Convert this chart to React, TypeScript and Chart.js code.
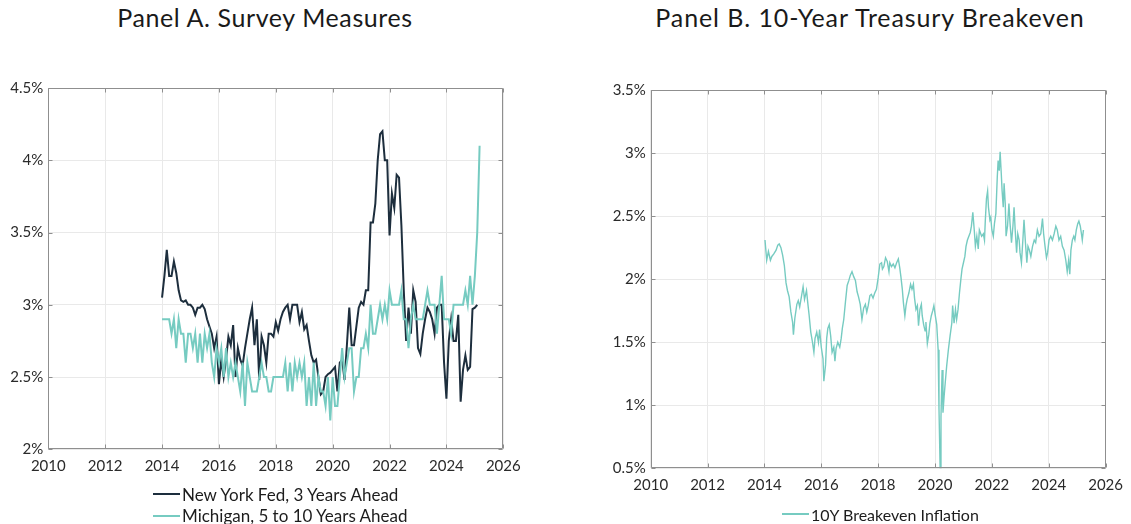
import React, { useEffect, useRef } from "react";
import { Chart, registerables } from "chart.js";

Chart.register(...registerables);

const FONT = "Lato, 'Noto Sans', sans-serif";
const NAVY = "#1d2e3d";
const TEAL = "#76cbc1";
const GRID = "#e9e9e9";
const FRAME = "#8f8f8f";
const TICK_TEXT = "#2a2a2a";

// Shared x-axis ticks (years)
const yearTicks = [2010, 2012, 2014, 2016, 2018, 2020, 2022, 2024, 2026];

// Panel A: monthly survey medians, first observation January 2014
const surveyFirstYear = 2014;
const nyFed3YearsAhead = [
  3.05, 3.2, 3.38, 3.2, 3.2, 3.3, 3.22, 3.1, 3.03, 3.02, 3.03, 3.0,
  3.0, 2.98, 2.93, 2.98, 2.98, 3.0, 2.97, 2.9, 2.85, 2.8, 2.7, 2.78,
  2.45, 2.62, 2.5, 2.62, 2.78, 2.72, 2.86, 2.5, 2.7, 2.62, 2.58, 2.7,
  2.8, 2.9, 2.98, 2.72, 2.9, 2.48, 2.78, 2.72, 2.6, 2.8, 2.8, 2.78,
  2.88, 2.82, 2.9, 2.95, 2.98, 3.0, 2.9, 3.0, 3.0, 3.0, 2.88, 2.95,
  2.83, 2.86, 2.75, 2.65, 2.6, 2.62, 2.5, 2.38, 2.4, 2.5, 2.52, 2.53,
  2.55, 2.57, 2.4, 2.6, 2.62, 2.48, 2.72, 2.98, 2.72, 2.72, 2.85, 2.98,
  3.02, 3.0, 3.1, 3.1, 3.57, 3.57, 3.7, 4.0, 4.18, 4.2, 4.0, 4.0,
  3.48, 3.77, 3.67, 3.9, 3.88, 3.55, 3.1, 2.75, 2.98, 2.8, 3.1, 3.02,
  2.7, 2.66, 2.8, 2.9, 2.98, 2.95, 2.9, 2.8, 2.98, 3.0, 3.0, 2.6,
  2.35, 2.75, 2.9, 2.75, 2.75, 2.93, 2.33, 2.55, 2.65, 2.55, 2.57, 2.97,
  2.98, 3.0,
];
const michigan5to10YearsAhead = [
  2.9, 2.9, 2.9, 2.9, 2.8, 2.9, 2.7, 2.9, 2.8, 2.8, 2.6, 2.8,
  2.8, 2.7, 2.8, 2.6, 2.8, 2.6, 2.8, 2.7, 2.8, 2.6, 2.5, 2.7,
  2.6, 2.7, 2.5, 2.7, 2.5, 2.6, 2.5, 2.6, 2.5, 2.4, 2.6, 2.3,
  2.6, 2.5, 2.4, 2.4, 2.4, 2.5, 2.6, 2.5, 2.5, 2.4, 2.4, 2.5,
  2.5, 2.5, 2.5, 2.5, 2.6, 2.4, 2.6, 2.4, 2.6, 2.5, 2.6, 2.5,
  2.6, 2.3, 2.5, 2.3, 2.6, 2.3, 2.5, 2.4, 2.4, 2.3, 2.5, 2.2,
  2.5, 2.3, 2.3, 2.5, 2.7, 2.5, 2.6, 2.7, 2.7, 2.4, 2.5, 2.5,
  2.7, 2.7, 2.8, 2.7, 3.0, 2.8, 2.8, 2.9, 3.0, 2.9, 3.0, 2.9,
  3.1, 3.0, 3.0, 3.0, 3.0, 3.1, 2.9, 2.9, 2.7, 2.9, 3.0, 2.9,
  2.9, 2.9, 2.9, 3.0, 3.1, 3.0, 3.0, 3.0, 2.8, 3.0, 3.2, 2.9,
  2.9, 2.9, 2.8, 3.0, 3.0, 3.0, 3.0, 3.0, 3.1, 3.0, 3.2, 3.0,
  3.2, 3.5, 4.1,
];
const surveyTicks = [2, 2.5, 3, 3.5, 4, 4.5];

// Panel B: 10-year breakeven inflation (date as decimal year, percent)
const breakevenDates = [
  2014.02, 2014.08, 2014.14, 2014.21, 2014.26, 2014.33, 2014.41, 2014.47, 2014.52, 2014.58,
  2014.64, 2014.7, 2014.76, 2014.81, 2014.87, 2014.93, 2014.99, 2015.02, 2015.07, 2015.14,
  2015.19, 2015.24, 2015.3, 2015.36, 2015.41, 2015.48, 2015.53, 2015.57, 2015.63, 2015.69,
  2015.74, 2015.78, 2015.84, 2015.9, 2015.94, 2016.0, 2016.06, 2016.09, 2016.15, 2016.19,
  2016.23, 2016.28, 2016.33, 2016.38, 2016.44, 2016.48, 2016.52, 2016.58, 2016.65, 2016.7,
  2016.74, 2016.79, 2016.85, 2016.91, 2016.97, 2017.02, 2017.08, 2017.14, 2017.2, 2017.26,
  2017.31, 2017.37, 2017.43, 2017.49, 2017.55, 2017.6, 2017.65, 2017.71, 2017.76, 2017.82,
  2017.88, 2017.94, 2018.0, 2018.06, 2018.12, 2018.15, 2018.2, 2018.26, 2018.32, 2018.38,
  2018.41, 2018.47, 2018.53, 2018.59, 2018.65, 2018.71, 2018.76, 2018.8, 2018.85, 2018.89,
  2018.94, 2018.98, 2019.02, 2019.08, 2019.14, 2019.19, 2019.24, 2019.28, 2019.33, 2019.38,
  2019.42, 2019.47, 2019.52, 2019.55, 2019.6, 2019.65, 2019.68, 2019.73, 2019.78, 2019.82,
  2019.87, 2019.92, 2019.96, 2020.01, 2020.06, 2020.11, 2020.14, 2020.18, 2020.21, 2020.25,
  2020.28, 2020.32, 2020.36, 2020.41, 2020.47, 2020.53, 2020.59, 2020.62, 2020.67, 2020.72,
  2020.76, 2020.81, 2020.86, 2020.91, 2020.95, 2021.0, 2021.05, 2021.09, 2021.14, 2021.19,
  2021.24, 2021.28, 2021.33, 2021.38, 2021.42, 2021.47, 2021.52, 2021.56, 2021.64, 2021.7,
  2021.74, 2021.77, 2021.81, 2021.85, 2021.88, 2021.93, 2021.96, 2022.0, 2022.05, 2022.09,
  2022.14, 2022.19, 2022.22, 2022.26, 2022.29, 2022.33, 2022.36, 2022.4, 2022.43, 2022.47,
  2022.5, 2022.55, 2022.6, 2022.64, 2022.69, 2022.74, 2022.78, 2022.82, 2022.87, 2022.91,
  2022.96, 2022.99, 2023.04, 2023.09, 2023.13, 2023.18, 2023.23, 2023.27, 2023.32, 2023.37,
  2023.43, 2023.49, 2023.54, 2023.6, 2023.66, 2023.72, 2023.78, 2023.82, 2023.87, 2023.92,
  2023.96, 2024.01, 2024.07, 2024.13, 2024.19, 2024.25, 2024.3, 2024.36, 2024.42, 2024.48,
  2024.54, 2024.6, 2024.65, 2024.7, 2024.74, 2024.78, 2024.83, 2024.88, 2024.92, 2024.97,
  2025.02, 2025.06, 2025.11, 2025.15, 2025.18, 2025.22,
];
const breakevenValues = [
  2.31, 2.15, 2.22, 2.15, 2.18, 2.2, 2.23, 2.27, 2.28, 2.25,
  2.19, 2.11, 1.97, 1.91, 1.86, 1.74, 1.66, 1.56, 1.69, 1.8,
  1.83, 1.78, 1.86, 1.94, 1.84, 1.91, 1.8, 1.72, 1.58, 1.5,
  1.42, 1.53, 1.58, 1.5, 1.6, 1.46, 1.37, 1.19, 1.32, 1.53,
  1.61, 1.64, 1.55, 1.42, 1.46, 1.35, 1.45, 1.5, 1.46, 1.53,
  1.61, 1.68, 1.82, 1.95, 1.99, 2.03, 2.06, 2.02, 1.99, 1.9,
  1.86, 1.8, 1.68, 1.77, 1.8, 1.74, 1.79, 1.87, 1.88, 1.85,
  1.89, 1.92, 2.01, 2.12, 2.13, 2.08, 2.1, 2.17, 2.14, 2.06,
  2.13, 2.1, 2.12, 2.09, 2.13, 2.16, 2.09, 2.02, 1.92, 1.81,
  1.71, 1.79, 1.84, 1.89, 1.96, 1.92, 1.96, 1.85, 1.76, 1.79,
  1.63, 1.76, 1.8, 1.71, 1.64, 1.59, 1.66, 1.49, 1.56, 1.65,
  1.71, 1.75, 1.79, 1.71, 1.64, 1.44, 0.97, 0.5, 0.91, 1.28,
  0.94, 1.07, 1.18, 1.31, 1.44, 1.55, 1.65, 1.79, 1.65, 1.76,
  1.68, 1.76, 1.89, 2.0, 2.08, 2.13, 2.18, 2.26, 2.31, 2.34,
  2.37, 2.42, 2.53, 2.39, 2.26, 2.34, 2.24, 2.39, 2.34, 2.36,
  2.31, 2.47, 2.64, 2.7, 2.57, 2.47, 2.49, 2.39, 2.34, 2.44,
  2.52, 2.81, 2.94, 2.86, 3.01, 2.84, 2.7, 2.57, 2.76, 2.6,
  2.34, 2.42, 2.6, 2.44, 2.29, 2.42, 2.57, 2.39, 2.21, 2.36,
  2.31, 2.21, 2.13, 2.31, 2.47, 2.29, 2.13, 2.26, 2.23, 2.18,
  2.26, 2.31, 2.29, 2.39, 2.34, 2.36, 2.48, 2.36, 2.26, 2.17,
  2.21, 2.31, 2.34, 2.31, 2.36, 2.42, 2.39, 2.31, 2.34, 2.26,
  2.23, 2.15, 2.06, 2.15, 2.04, 2.23, 2.31, 2.34, 2.31, 2.39,
  2.44, 2.46, 2.42, 2.36, 2.31, 2.39,
];
const breakevenTicks = [0.5, 1, 1.5, 2, 2.5, 3, 3.5];

const monthlyPoints = (values: number[]) =>
  values.map((v, i) => ({ x: surveyFirstYear + i / 12, y: v }));

const datedPoints = (dates: number[], values: number[]) =>
  dates.map((d, i) => ({ x: d, y: values[i] }));

// Draws the boxed frame with short inward tick marks on all four sides.
const framePlugin = {
  id: "boxFrame",
  afterDraw(chart: any) {
    const { ctx, chartArea: a, scales } = chart;
    const t = 4;
    ctx.save();
    ctx.strokeStyle = FRAME;
    ctx.lineWidth = 1;
    ctx.beginPath();
    const L = Math.round(a.left) + 0.5;
    const R = Math.round(a.right) - 0.5;
    const T = Math.round(a.top) + 0.5;
    const B = Math.round(a.bottom) - 0.5;
    ctx.rect(L, T, R - L, B - T);
    for (const tk of scales.x.ticks) {
      const px = Math.round(scales.x.getPixelForValue(tk.value)) + 0.5;
      ctx.moveTo(px, B);
      ctx.lineTo(px, B - t);
      ctx.moveTo(px, T);
      ctx.lineTo(px, T + t);
    }
    for (const tk of scales.y.ticks) {
      const py = Math.round(scales.y.getPixelForValue(tk.value)) + 0.5;
      ctx.moveTo(L, py);
      ctx.lineTo(L + t, py);
      ctx.moveTo(R, py);
      ctx.lineTo(R - t, py);
    }
    ctx.stroke();
    ctx.restore();
  },
};

type Frame = {
  yMin: number;
  yMax: number;
  yTicks: number[];
  yWidth: number;
  xHeight: number;
  padTop: number;
  padRight: number;
};

function buildOptions(f: Frame): any {
  const tickFont = { family: FONT, size: 15 };
  return {
    responsive: false,
    maintainAspectRatio: false,
    animation: false,
    events: [],
    layout: { padding: { top: f.padTop, right: f.padRight, left: 0, bottom: 0 } },
    plugins: {
      legend: { display: false },
      tooltip: { enabled: false },
      title: { display: false },
    },
    scales: {
      x: {
        type: "linear",
        min: 2010,
        max: 2026,
        afterBuildTicks: (axis: any) => {
          axis.ticks = yearTicks.map((value) => ({ value }));
        },
        afterFit: (axis: any) => {
          axis.height = f.xHeight;
        },
        grid: { color: GRID, drawTicks: false, lineWidth: 1 },
        border: { display: false },
        ticks: {
          font: tickFont,
          color: TICK_TEXT,
          padding: 8,
          maxRotation: 0,
          autoSkip: false,
          callback: (v: number) => String(v),
        },
      },
      y: {
        type: "linear",
        min: f.yMin,
        max: f.yMax,
        afterBuildTicks: (axis: any) => {
          axis.ticks = f.yTicks.map((value) => ({ value }));
        },
        afterFit: (axis: any) => {
          axis.width = f.yWidth;
        },
        grid: { color: GRID, drawTicks: false, lineWidth: 1 },
        border: { display: false },
        ticks: {
          font: tickFont,
          color: TICK_TEXT,
          padding: 5,
          autoSkip: false,
          callback: (v: number) => `${v}%`,
        },
      },
    },
  };
}

function ChartCanvas(props: {
  left: number;
  top: number;
  width: number;
  height: number;
  makeConfig: () => any;
}) {
  const ref = useRef<HTMLCanvasElement>(null);
  useEffect(() => {
    const chart = new Chart(ref.current as HTMLCanvasElement, props.makeConfig());
    return () => chart.destroy();
  }, []);
  return (
    <canvas
      ref={ref}
      width={props.width}
      height={props.height}
      style={{
        position: "absolute",
        left: props.left,
        top: props.top,
        width: props.width,
        height: props.height,
      }}
    />
  );
}

const surveyConfig = () => ({
  type: "line",
  data: {
    datasets: [
      {
        label: "New York Fed, 3 Years Ahead",
        data: monthlyPoints(nyFed3YearsAhead),
        borderColor: NAVY,
        borderWidth: 2,
        pointRadius: 0,
        tension: 0,
        order: 2,
      },
      {
        label: "Michigan, 5 to 10 Years Ahead",
        data: monthlyPoints(michigan5to10YearsAhead),
        borderColor: TEAL,
        borderWidth: 2,
        pointRadius: 0,
        tension: 0,
        order: 1,
      },
    ],
  },
  options: buildOptions({
    yMin: 2,
    yMax: 4.5,
    yTicks: surveyTicks,
    yWidth: 48.3,
    xHeight: 50.7,
    padTop: 28,
    padRight: 26.7,
  }),
  plugins: [framePlugin],
});

const breakevenConfig = () => ({
  type: "line",
  data: {
    datasets: [
      {
        label: "10Y Breakeven Inflation",
        data: datedPoints(breakevenDates, breakevenValues),
        borderColor: TEAL,
        borderWidth: 1.4,
        pointRadius: 0,
        tension: 0,
      },
    ],
  },
  options: buildOptions({
    yMin: 0.5,
    yMax: 3.5,
    yTicks: breakevenTicks,
    yWidth: 85.7,
    xHeight: 31.7,
    padTop: 30,
    padRight: 22.7,
  }),
  plugins: [framePlugin],
});

function LegendRow(props: {
  left: number;
  centerY: number;
  color: string;
  lineWidth: number;
  thickness: number;
  fontSize: number;
  text: string;
}) {
  return (
    <div
      style={{
        position: "absolute",
        left: props.left,
        top: props.centerY - 10,
        height: 20,
        display: "flex",
        alignItems: "center",
        whiteSpace: "nowrap",
        fontFamily: FONT,
        fontSize: props.fontSize,
        color: "#1c1c1c",
      }}
    >
      <span
        style={{
          display: "inline-block",
          width: props.lineWidth,
          height: props.thickness,
          background: props.color,
          marginRight: 2,
        }}
      />
      <span>{props.text}</span>
    </div>
  );
}

const titleStyle = (left: number, width: number, spacing: number): React.CSSProperties => ({
  position: "absolute",
  left,
  top: 5,
  width,
  textAlign: "center",
  fontFamily: FONT,
  fontSize: 25,
  fontWeight: 400,
  letterSpacing: spacing,
  lineHeight: "25px",
  color: "#1a1a1a",
  whiteSpace: "nowrap",
});

export default function App() {
  return (
    <div
      style={{
        position: "absolute",
        left: 0,
        top: 0,
        width: 1131,
        height: 524,
        background: "#ffffff",
        overflow: "hidden",
      }}
    >
      <div style={titleStyle(0, 530, 0.6)}>Panel A. Survey Measures</div>
      <div style={titleStyle(609, 522, 0.9)}>Panel B. 10-Year Treasury Breakeven</div>

      <ChartCanvas left={0} top={60} width={530} height={440} makeConfig={surveyConfig} />
      <ChartCanvas left={565} top={60} width={566} height={440} makeConfig={breakevenConfig} />

      <LegendRow left={153} centerY={494} color={NAVY} lineWidth={27} thickness={2} fontSize={17} text="New York Fed, 3 Years Ahead" />
      <LegendRow left={153} centerY={515.5} color={TEAL} lineWidth={27} thickness={2} fontSize={17} text="Michigan, 5 to 10 Years Ahead" />
      <LegendRow left={782} centerY={514} color={TEAL} lineWidth={27} thickness={1.5} fontSize={16} text="10Y Breakeven Inflation" />
    </div>
  );
}
